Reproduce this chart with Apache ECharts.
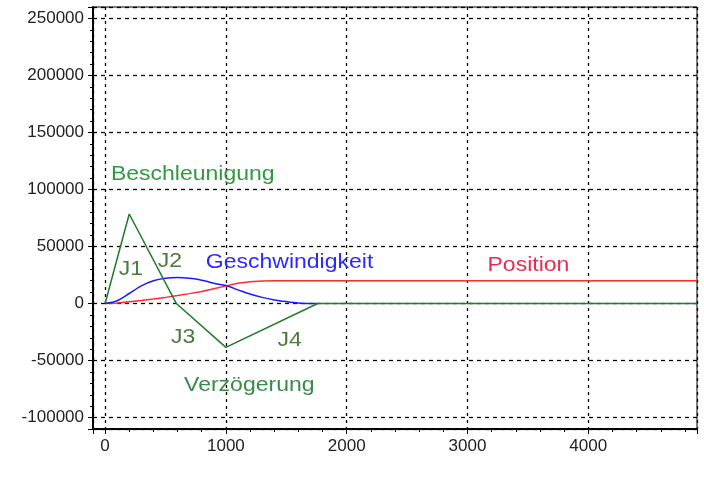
<!DOCTYPE html>
<html>
<head>
<meta charset="utf-8">
<script src="https://cdn.jsdelivr.net/npm/echarts@6/dist/echarts.min.js"></script>
<style>
  html, body { margin: 0; padding: 0; background: #fff; }
  #chart { width: 704px; height: 477px; }
</style>
</head>
<body>
<div id="chart"></div>
<script>
// Motion profile: acceleration (jerk phases J1..J4), velocity and position over time
const accTime = [0, 200, 590, 1000, 1760, 4900];
const acceleration = [0, 78500, 0, -38400, 0, 0];

const velTime = [0, 100, 200, 300, 400, 500, 600, 700, 800, 900, 1000, 1100, 1200, 1300, 1400, 1500, 1600, 1700, 1760];
const velocity = [0, 2500, 8800, 15500, 20000, 22200, 22900, 22100, 20500, 17800, 15800, 12000, 8300, 5400, 3200, 1700, 500, 50, 0];

const posTime = [0, 100, 200, 300, 400, 500, 600, 700, 800, 900, 1000, 1100, 1200, 1300, 1400, 4900];
const position = [0, 500, 1600, 2700, 4000, 5400, 7000, 8700, 10500, 13000, 15500, 17800, 19200, 19800, 20000, 20000];

const pair = (xs, ys) => xs.map((x, i) => [x, ys[i]]);

// Text annotations placed in data coordinates (left edge, vertical middle)
const notes = [
  { text: 'Beschleunigung', at: [48, 113500], color: '#2f9a40' },
  { text: 'J1', at: [113, 29500], color: '#4a7a3c' },
  { text: 'J2', at: [435, 37000], color: '#4a7a3c' },
  { text: 'Geschwindigkeit', at: [834, 35700], color: '#2a2aff' },
  { text: 'Position', at: [3166, 33000], color: '#ec2a4e' },
  { text: 'J3', at: [545, -29400], color: '#4a7a3c' },
  { text: 'J4', at: [1427, -32600], color: '#4a7a3c' },
  { text: 'Verzögerung', at: [654, -72000], color: '#3a8a4a' }
];

const font = '"Liberation Sans", Arial, sans-serif';

const chart = echarts.init(document.getElementById('chart'), null, { renderer: 'canvas' });
chart.setOption({
  animation: false,
  backgroundColor: '#fff',
  grid: {
    left: 93, right: 7, top: 7, bottom: 48,
    show: true, borderColor: '#000', borderWidth: 1, backgroundColor: '#fff'
  },
  xAxis: {
    type: 'value',
    min: -100, max: 4900, splitNumber: 5,
    axisLine: { onZero: false, lineStyle: { color: '#000', width: 2 } },
    axisTick: { length: 5, lineStyle: { color: '#000' } },
    minorTick: { show: true, splitNumber: 5, length: 3, lineStyle: { color: '#000' } },
    splitLine: { show: true, lineStyle: { color: '#000', width: 1.3, type: [3, 4] } },
    minorSplitLine: { show: false },
    axisLabel: {
      formatter: v => (v % 1000 === 0 ? String(v) : ''),
      fontFamily: font, fontSize: 17, color: '#222', margin: 9
    }
  },
  yAxis: {
    type: 'value',
    min: -110000, max: 260000, splitNumber: 7,
    axisLine: { onZero: false, lineStyle: { color: '#000', width: 2 } },
    axisTick: { length: 5, lineStyle: { color: '#000' } },
    minorTick: { show: true, splitNumber: 5, length: 3, lineStyle: { color: '#000' } },
    splitLine: { show: true, lineStyle: { color: '#000', width: 1.3, type: [4, 4] } },
    axisLabel: {
      formatter: v => (v % 50000 === 0 ? String(v) : ''),
      fontFamily: font, fontSize: 17, color: '#222', margin: 9
    }
  },
  series: [
    {
      name: 'Position', type: 'line', data: pair(posTime, position),
      showSymbol: false, lineStyle: { color: '#ff2a2a', width: 1.5 }, z: 2
    },
    {
      name: 'Geschwindigkeit', type: 'line', data: pair(velTime, velocity),
      smooth: 0.3, showSymbol: false, lineStyle: { color: '#1a1aff', width: 1.5 }, z: 3
    },
    {
      name: 'Beschleunigung', type: 'line', data: pair(accTime, acceleration),
      showSymbol: false, lineStyle: { color: '#1f7a2a', width: 1.5 }, z: 4
    },
    {
      name: 'notes', type: 'custom', silent: true, clip: false, z: 5,
      data: notes.map(n => n.at),
      renderItem: (params, api) => {
        const n = notes[params.dataIndex];
        const p = api.coord([api.value(0), api.value(1)]);
        return {
          type: 'text', x: p[0], y: p[1], scaleX: 1.15,
          style: { text: n.text, fill: n.color, font: '20px ' + font, align: 'left', verticalAlign: 'middle' }
        };
      }
    }
  ]
});
</script>
</body>
</html>
